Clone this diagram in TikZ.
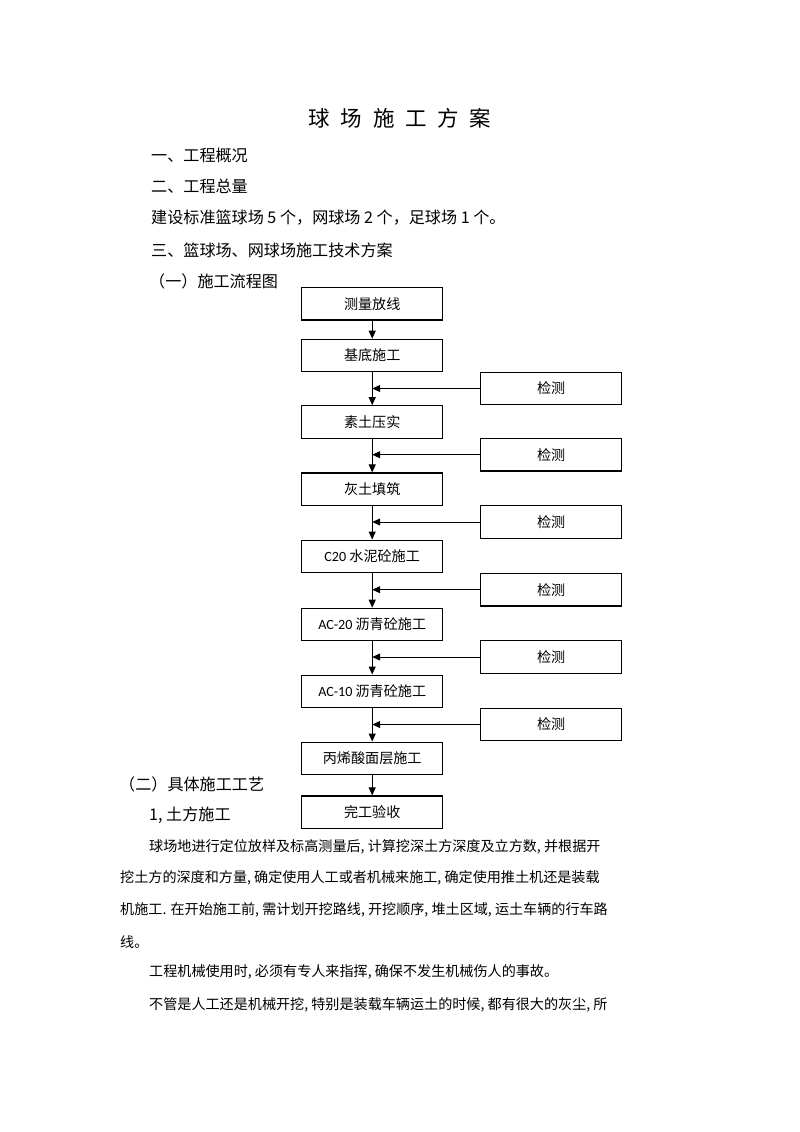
\documentclass[tikz,border=0pt]{standalone}
\usepackage{fontspec}
\setmainfont{Noto Sans CJK SC}
\newfontfamily\latfnt{Carlito}
\usetikzlibrary{arrows.meta}
\newcommand\titlefnt{\fontsize{21.5}{21.5}\selectfont}
\newcommand\bodyfnt{\fontsize{16.1}{16.1}\selectfont}
\newcommand\parafnt{\fontsize{14.1}{14.1}\selectfont}
\newcommand\boxfnt{\fontsize{14.1}{14.1}\selectfont}
\tikzset{
  flowbox/.style={draw, line width=1.1pt, minimum width=141pt, minimum height=32.5pt, inner sep=0pt, font=\boxfnt},
  arr/.style={line width=1pt, -{Triangle[length=8pt,width=7pt]}},
  bodytxt/.style={anchor=west, inner sep=0pt, font=\bodyfnt},
  paratxt/.style={anchor=west, inner sep=0pt, font=\parafnt},
}
\begin{document}
\begin{tikzpicture}[x=1pt,y=-1pt]
\useasboundingbox[fill=white] (0,0) rectangle (800,1132);
% title
\node[inner sep=0pt, font=\titlefnt] (title) at (400,118) {球\hspace{0.5em}场\hspace{0.5em}施\hspace{0.5em}工\hspace{0.5em}方\hspace{0.5em}案};
% body lines
\node[bodytxt] (t1) at (151,155) {一、工程概况};
\node[bodytxt] (t2) at (151,186.7) {二、工程总量};
\node[bodytxt] (t3) at (151,218) {建设标准篮球场 5 个，网球场 2 个，足球场 1 个。};
\node[bodytxt] (t4) at (151,250) {三、篮球场、网球场施工技术方案};
\node[bodytxt] (t5) at (149,281) {（一）施工流程图};
\node[bodytxt] (t6) at (119,784) {（二）具体施工工艺};
\node[bodytxt] (t7) at (149,815) {1, 土方施工};
% paragraph
\node[paratxt] (p1) at (149,847) {球场地进行定位放样及标高测量后, 计算挖深土方深度及立方数, 并根据开};
\node[paratxt] (p2) at (120,878) {挖土方的深度和方量, 确定使用人工或者机械来施工, 确定使用推土机还是装载};
\node[paratxt] (p3) at (120,909.5) {机施工. 在开始施工前, 需计划开挖路线, 开挖顺序, 堆土区域, 运土车辆的行车路};
\node[paratxt] (p4) at (120,941.7) {线。};
\node[paratxt] (p5) at (149,972) {工程机械使用时, 必须有专人来指挥, 确保不发生机械伤人的事故。};
\node[paratxt] (p6) at (149,1005) {不管是人工还是机械开挖, 特别是装载车辆运土的时候, 都有很大的灰尘, 所};
% flow boxes
\node[flowbox] (b1) at (372.2,303.7) {测量放线};
\node[flowbox] (b2) at (372.2,355.5) {基底施工};
\node[flowbox] (b3) at (372.2,422) {素土压实};
\node[flowbox] (b4) at (372.2,489.2) {灰土填筑};
\node[flowbox] (b5) at (372.2,556.3) {{\latfnt C20} 水泥砼施工};
\node[flowbox] (b6) at (372.2,624.5) {{\latfnt AC-20} 沥青砼施工};
\node[flowbox] (b7) at (372.2,691.3) {{\latfnt AC-10} 沥青砼施工};
\node[flowbox] (b8) at (372.2,758.3) {丙烯酸面层施工};
\node[flowbox] (b9) at (372.2,812.2) {完工验收};
% check boxes
\node[flowbox] (k1) at (551.2,388.5) {检测};
\node[flowbox] (k2) at (551.2,454.7) {检测};
\node[flowbox] (k3) at (551.2,522) {检测};
\node[flowbox] (k4) at (551.2,589.7) {检测};
\node[flowbox] (k5) at (551.2,657) {检测};
\node[flowbox] (k6) at (551.2,724.5) {检测};
% vertical arrows
\draw[arr] (b1.south) -- (b2.north);
\draw[arr] (b2.south) -- (b3.north);
\draw[arr] (b3.south) -- (b4.north);
\draw[arr] (b4.south) -- (b5.north);
\draw[arr] (b5.south) -- (b6.north);
\draw[arr] (b6.south) -- (b7.north);
\draw[arr] (b7.south) -- (b8.north);
\draw[arr] (b8.south) -- (b9.north);
% horizontal arrows
\draw[arr] (k1.west) -- (k1.west -| b2.south);
\draw[arr] (k2.west) -- (k2.west -| b3.south);
\draw[arr] (k3.west) -- (k3.west -| b4.south);
\draw[arr] (k4.west) -- (k4.west -| b5.south);
\draw[arr] (k5.west) -- (k5.west -| b6.south);
\draw[arr] (k6.west) -- (k6.west -| b7.south);
\end{tikzpicture}
\end{document}
